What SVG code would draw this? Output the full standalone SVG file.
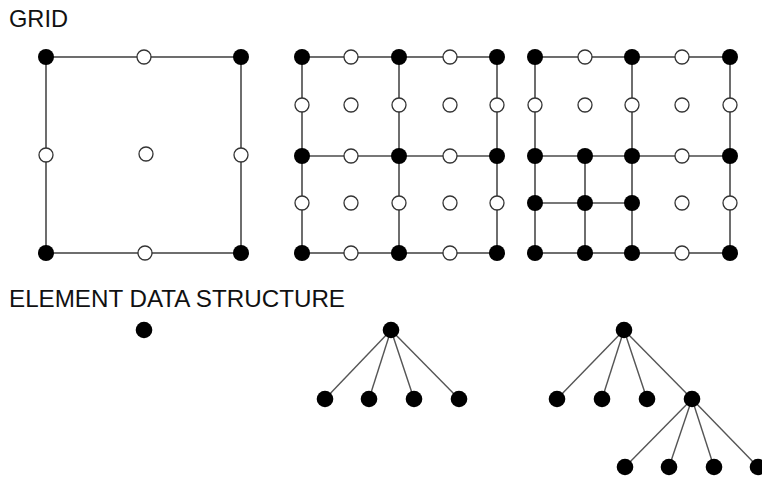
<svg xmlns="http://www.w3.org/2000/svg" width="762" height="483" viewBox="0 0 762 483">
<style>
.t{font-family:"Liberation Sans",Arial,sans-serif;font-size:24px;fill:#111}
.ln{stroke:#4a4a4a;stroke-width:1.6;fill:none}
.tl{stroke:#555;stroke-width:1.4;fill:none}
.f{fill:#000}
.o{fill:#fff;stroke:#333;stroke-width:1.3}
</style>
<defs>
<circle id="F" r="8" class="f"/>
<circle id="O" r="7" class="o"/>
<circle id="T" r="8.3" class="f"/>
</defs>
<rect width="762" height="483" fill="#fff"/>
<text class="t" x="9" y="27" textLength="59" lengthAdjust="spacingAndGlyphs">GRID</text>
<text class="t" x="9" y="307" textLength="336" lengthAdjust="spacingAndGlyphs">ELEMENT DATA STRUCTURE</text>

<g id="connectors">
<!-- grid 1 -->
<rect class="ln" x="46" y="57" width="195" height="196"/>
<!-- grid 2 -->
<rect class="ln" x="302" y="57" width="195" height="196"/>
<line class="ln" x1="399" y1="57" x2="399" y2="253"/>
<line class="ln" x1="302" y1="156" x2="497" y2="156"/>
<!-- grid 3 -->
<rect class="ln" x="535" y="57" width="195" height="196"/>
<line class="ln" x1="632" y1="57" x2="632" y2="253"/>
<line class="ln" x1="535" y1="156" x2="730" y2="156"/>
<line class="ln" x1="585" y1="156" x2="585" y2="253"/>
<line class="ln" x1="535" y1="203" x2="632" y2="203"/>
<!-- tree 2 -->
<line class="tl" x1="391" y1="330" x2="325" y2="399"/>
<line class="tl" x1="391" y1="330" x2="369" y2="399"/>
<line class="tl" x1="391" y1="330" x2="414" y2="399"/>
<line class="tl" x1="391" y1="330" x2="459" y2="399"/>
<!-- tree 3 -->
<line class="tl" x1="624" y1="330" x2="557" y2="399"/>
<line class="tl" x1="624" y1="330" x2="602" y2="399"/>
<line class="tl" x1="624" y1="330" x2="647" y2="399"/>
<line class="tl" x1="624" y1="330" x2="692" y2="399"/>
<line class="tl" x1="692" y1="399" x2="625" y2="467"/>
<line class="tl" x1="692" y1="399" x2="669" y2="467"/>
<line class="tl" x1="692" y1="399" x2="714" y2="467"/>
<line class="tl" x1="692" y1="399" x2="758" y2="467"/>
</g>

<g id="grid1">
<use href="#F" x="46" y="57"/><use href="#O" x="144" y="57"/><use href="#F" x="241" y="57"/>
<use href="#O" x="46" y="155"/><use href="#O" x="146" y="154"/><use href="#O" x="241" y="155"/>
<use href="#F" x="46" y="253"/><use href="#O" x="145" y="253"/><use href="#F" x="241" y="253"/>
</g>

<g id="grid2">
<use href="#F" x="302" y="57"/><use href="#O" x="351" y="57"/><use href="#F" x="399" y="57"/><use href="#O" x="450" y="57"/><use href="#F" x="497" y="57"/>
<use href="#O" x="302" y="105"/><use href="#O" x="351" y="105"/><use href="#O" x="399" y="105"/><use href="#O" x="450" y="105"/><use href="#O" x="497" y="105"/>
<use href="#F" x="302" y="156"/><use href="#O" x="351" y="156"/><use href="#F" x="399" y="156"/><use href="#O" x="450" y="156"/><use href="#F" x="497" y="156"/>
<use href="#O" x="302" y="203"/><use href="#O" x="351" y="203"/><use href="#O" x="399" y="203"/><use href="#O" x="450" y="203"/><use href="#O" x="497" y="203"/>
<use href="#F" x="302" y="253"/><use href="#O" x="351" y="253"/><use href="#F" x="399" y="253"/><use href="#O" x="450" y="253"/><use href="#F" x="497" y="253"/>
</g>

<g id="grid3">
<use href="#F" x="535" y="57"/><use href="#O" x="585" y="57"/><use href="#F" x="632" y="57"/><use href="#O" x="682" y="57"/><use href="#F" x="730" y="57"/>
<use href="#O" x="535" y="105"/><use href="#O" x="585" y="105"/><use href="#O" x="632" y="105"/><use href="#O" x="682" y="105"/><use href="#O" x="730" y="105"/>
<use href="#F" x="535" y="156"/><use href="#F" x="585" y="156"/><use href="#F" x="632" y="156"/><use href="#O" x="682" y="156"/><use href="#F" x="730" y="156"/>
<use href="#F" x="535" y="203"/><use href="#F" x="585" y="203"/><use href="#F" x="632" y="203"/><use href="#O" x="682" y="203"/><use href="#O" x="730" y="203"/>
<use href="#F" x="535" y="253"/><use href="#F" x="585" y="253"/><use href="#F" x="632" y="253"/><use href="#O" x="682" y="253"/><use href="#F" x="730" y="253"/>
</g>

<g id="tree1">
<use href="#T" x="144" y="330"/>
</g>

<g id="tree2">
<use href="#T" x="391" y="330"/>
<use href="#T" x="325" y="399"/><use href="#T" x="369" y="399"/><use href="#T" x="414" y="399"/><use href="#T" x="459" y="399"/>
</g>

<g id="tree3">
<use href="#T" x="624" y="330"/>
<use href="#T" x="557" y="399"/><use href="#T" x="602" y="399"/><use href="#T" x="647" y="399"/><use href="#T" x="692" y="399"/>
<use href="#T" x="625" y="467"/><use href="#T" x="669" y="467"/><use href="#T" x="714" y="467"/><use href="#T" x="758" y="467"/>
</g>
</svg>
